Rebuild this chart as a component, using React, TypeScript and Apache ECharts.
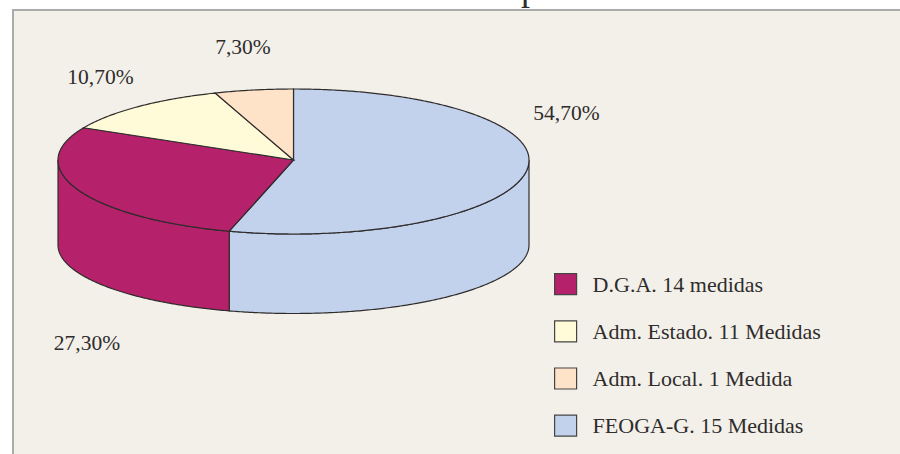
import React, { useEffect, useRef } from "react";
import * as echarts from "echarts";

const categories = ["FEOGA-G. 15 Medidas", "D.G.A. 14 medidas", "Adm. Estado. 11 Medidas", "Adm. Local. 1 Medida"];
const legendOrder = ["D.G.A. 14 medidas", "Adm. Estado. 11 Medidas", "Adm. Local. 1 Medida", "FEOGA-G. 15 Medidas"];
// Share of the circle each slice occupies as drawn in the picture
const drawnShares = [54.4, 28.1, 12.1, 5.4];
const colors = ["#c3d2ec", "#b5216b", "#fffbd8", "#ffe3c8"];
const percentLabels = ["54,70%", "27,30%", "10,70%", "7,30%"];
const labelPositions = [[566.5, 113], [87, 343], [100.5, 77], [243, 47]];

const CX = 293.5, CY = 160, RX = 235.5, RY_BACK = 71, RY_FRONT = 74;
const DEPTH = 85, BOTTOM_RY = 68.5;
const FONT = '"Liberation Serif", serif';
const INK = "#2f2c2c";

const topPt = (a: number) => {
  const c = Math.cos(a);
  return [CX + RX * Math.sin(a), CY - (c > 0 ? RY_BACK : RY_FRONT) * c];
};
const botPt = (a: number) => [CX + RX * Math.sin(a), CY + DEPTH - BOTTOM_RY * Math.cos(a)];
const arc = (a0: number, a1: number, f: (a: number) => number[]) => {
  const n = Math.max(2, Math.ceil(Math.abs(a1 - a0) / 0.01));
  const out: number[][] = [];
  for (let i = 0; i <= n; i++) out.push(f(a0 + ((a1 - a0) * i) / n));
  return out;
};

const starts = drawnShares.map((_, i) => drawnShares.slice(0, i).reduce((s, v) => s + v, 0));

function renderSlice(params: any, api: any) {
  const start = (api.value(0) / 100) * Math.PI * 2;
  const end = start + (api.value(1) / 100) * Math.PI * 2;
  const fill = api.visual("color");
  const children: any[] = [];
  const lo = Math.max(start, Math.PI / 2);
  const hi = Math.min(end, (Math.PI * 3) / 2);
  if (hi > lo) {
    children.push({
      type: "polygon",
      shape: { points: [...arc(lo, hi, topPt), ...arc(hi, lo, botPt)] },
      style: { fill, stroke: INK, lineWidth: 1.2 },
    });
  }
  children.push({
    type: "polygon",
    shape: { points: [[CX, CY], ...arc(start, end, topPt)] },
    style: { fill, stroke: INK, lineWidth: 1.2 },
  });
  return { type: "group", children };
}

export default function App() {
  const ref = useRef<HTMLDivElement>(null);
  useEffect(() => {
    const chart = echarts.init(ref.current!, undefined, { renderer: "svg" });
    chart.setOption({
      animation: false,
      backgroundColor: "#ffffff",
      legend: {
        data: legendOrder.map((name) => ({ name, icon: "rect" })),
        orient: "vertical",
        left: 554,
        top: 273,
        padding: 0,
        itemWidth: 22,
        itemHeight: 21,
        itemGap: 25,
        itemStyle: { borderColor: "#444", borderWidth: 1.2 },
        textStyle: { fontFamily: FONT, fontSize: 22, color: INK, padding: [0, 0, 0, 11] },
        selectedMode: false,
      },
      graphic: [
        {
          type: "rect",
          z: -1,
          shape: { x: 13, y: 10, width: 900, height: 460 },
          style: { fill: "#f3f0ea", stroke: "#ababab", lineWidth: 2 },
        },
        {
          type: "text",
          z: 5,
          x: 530,
          y: 6,
          style: { text: "p", font: `36px ${FONT}`, fill: INK, align: "center", verticalAlign: "bottom" },
        },
        ...percentLabels.map((text, i) => ({
          type: "text",
          z: 5,
          x: labelPositions[i][0],
          y: labelPositions[i][1],
          style: { text, font: `21.5px ${FONT}`, fill: INK, align: "center", verticalAlign: "middle" },
        })),
      ],
      series: categories.map((name, i) => ({
        type: "custom",
        name,
        coordinateSystem: "none",
        itemStyle: { color: colors[i] },
        data: [[starts[i], drawnShares[i]]],
        renderItem: renderSlice,
      })),
    });
    return () => chart.dispose();
  }, []);
  return <div ref={ref} style={{ position: "absolute", left: 0, top: 0, width: 900, height: 454 }} />;
}
